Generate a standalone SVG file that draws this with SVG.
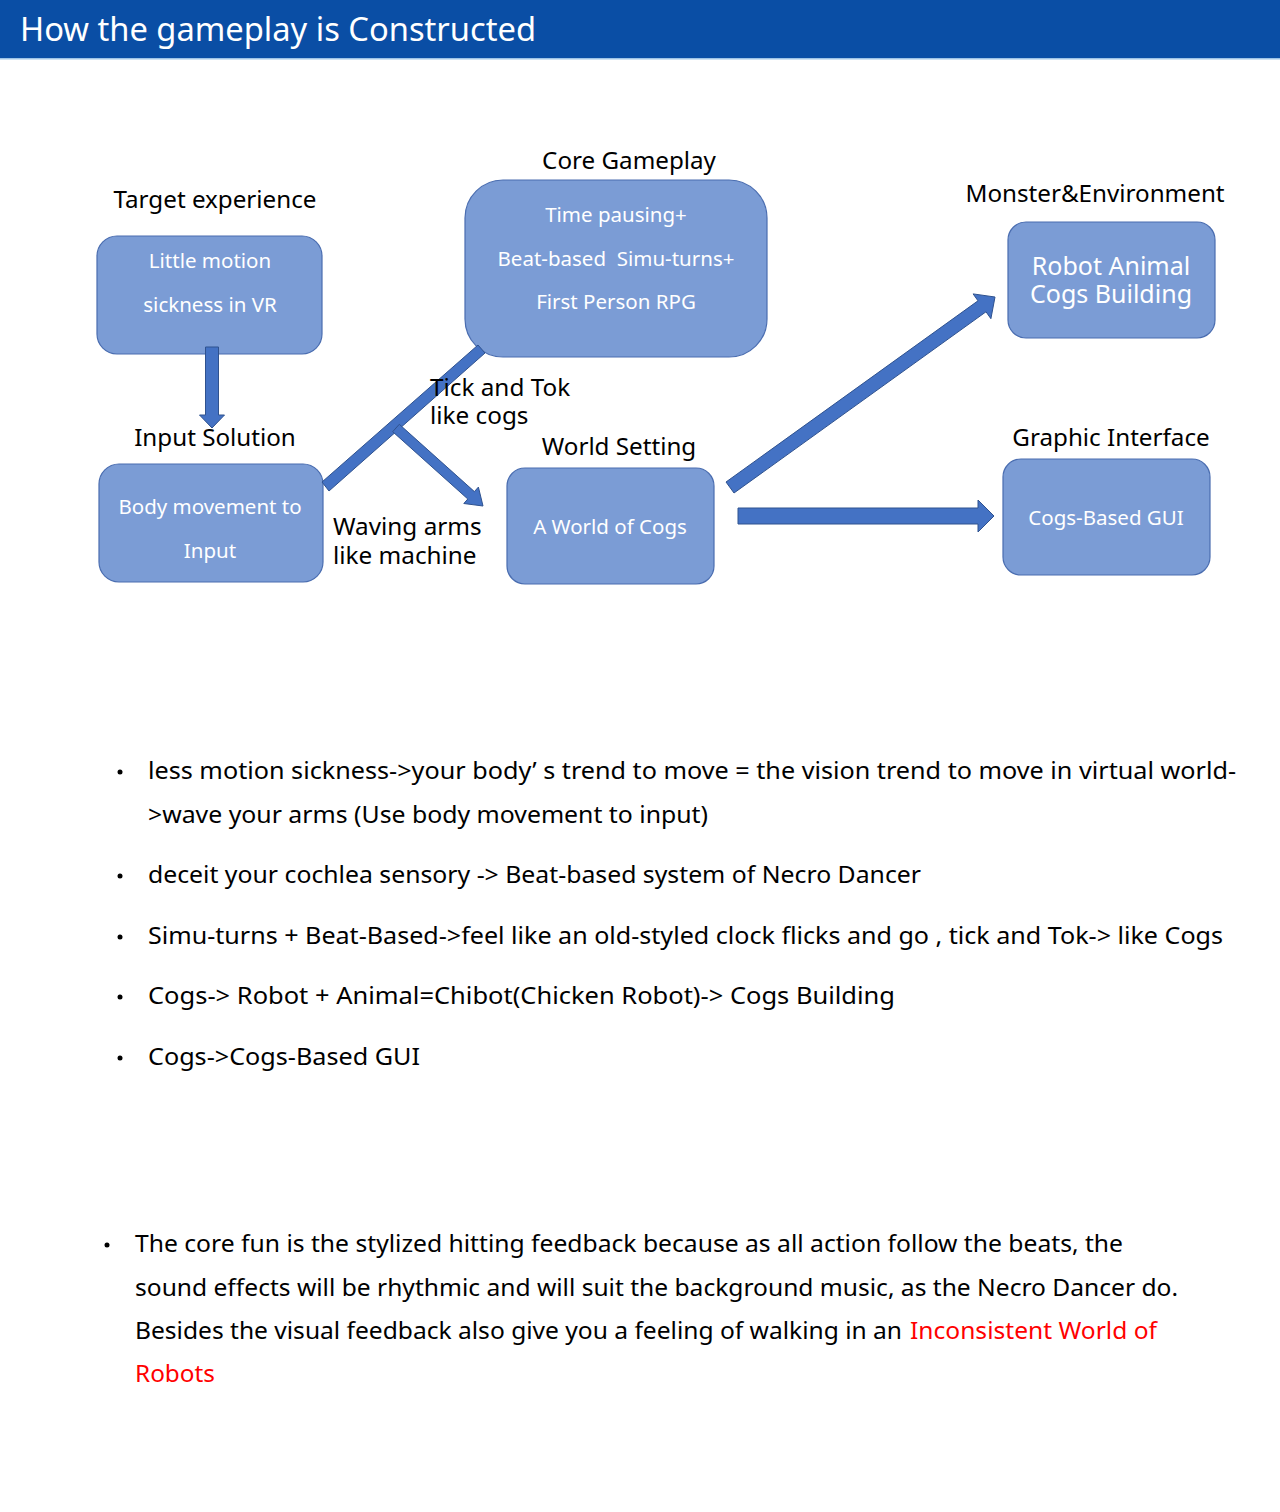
<svg xmlns="http://www.w3.org/2000/svg" width="1280" height="1512" viewBox="0 0 1280 1512">
<style>
.box{fill:#7B9CD5;stroke:#4A6DB0;stroke-width:1.2}
.bt{font-family:"Noto Sans","Open Sans",sans-serif;font-size:20.5px;fill:#FFFFFF;text-anchor:middle}
.hd{font-family:"Noto Sans","Open Sans",sans-serif;font-size:24.2px;fill:#000000;text-anchor:middle}
.lb{font-family:"Noto Sans","Open Sans",sans-serif;font-size:24.3px;fill:#000000}
.tx{font-family:"Noto Sans","Open Sans",sans-serif;font-size:23px;fill:#000000}
.red{fill:#FF0000}
.arr{fill:#4472C4;stroke:#2F528F;stroke-width:1}
</style>
<rect x="0" y="0" width="1280" height="1512" fill="#FFFFFF"/>
<rect x="0" y="0" width="1280" height="58" fill="#0A4EA5"/>
<rect x="0" y="58" width="1280" height="1.5" fill="#9DC3E6"/>
<text x="20" y="41" font-family="Noto Sans, Open Sans, sans-serif" font-size="33" fill="#FFFFFF" textLength="516" lengthAdjust="spacingAndGlyphs">How the gameplay is Constructed</text>

<g id="node-target">
<text class="hd" x="215" y="208">Target experience</text>
<rect class="box" x="97" y="236" width="225" height="118" rx="20"/>
<text class="bt" x="210" y="268">Little motion</text>
<text class="bt" x="210" y="312">sickness in VR</text>
</g>
<g id="node-input">
<text class="hd" x="215" y="446">Input Solution</text>
<rect class="box" x="99" y="464" width="224" height="118" rx="20"/>
<text class="bt" x="210" y="514">Body movement to</text>
<text class="bt" x="210" y="558">Input</text>
</g>
<g id="node-core">
<text class="hd" x="629" y="169">Core Gameplay</text>
<rect class="box" x="465" y="180" width="302" height="177" rx="38"/>
<text class="bt" x="616" y="222">Time pausing+</text>
<text class="bt" x="616" y="266" xml:space="preserve">Beat-based  Simu-turns+</text>
<text class="bt" x="616" y="309">First Person RPG</text>
</g>
<g id="node-world">
<text class="hd" x="619" y="455">World Setting</text>
<rect class="box" x="507" y="468" width="207" height="116" rx="18"/>
<text class="bt" x="610" y="534">A World of Cogs</text>
</g>
<g id="node-monster">
<text class="hd" x="1095" y="202">Monster&amp;Environment</text>
<rect class="box" x="1008" y="222" width="207" height="116" rx="18"/>
<text class="bt" x="1111" y="275" style="font-size:25px">Robot Animal</text>
<text class="bt" x="1111" y="303" style="font-size:25px">Cogs Building</text>
</g>
<g id="node-gui">
<text class="hd" x="1111" y="446">Graphic Interface</text>
<rect class="box" x="1003" y="459" width="207" height="116" rx="18"/>
<text class="bt" x="1106" y="525">Cogs-Based GUI</text>
</g>

<g id="connectors">
<polygon class="arr" points="205.5,347 218.5,347 218.5,415 224.5,415 212,428 199.5,415 205.5,415"/>
<polygon class="arr" points="322,482 478,345 485,353 329,491"/>
<polygon class="arr" points="399.3,424.3 474.4,491.6 478.4,487.1 483,506 463.8,503.5 467.8,499 392.7,431.7"/>
<polygon class="arr" points="726,482 978,300.8 973.1,293.9 995,297 990.9,318.7 986,311.8 734,493"/>
<polygon class="arr" points="738,508 978,508 978,500 994,516 978,532 978,524 738,524"/>
<text class="lb" x="430" y="396">Tick and Tok</text>
<text class="lb" x="430" y="424">like cogs</text>
<text class="lb" x="333" y="535">Waving arms</text>
<text class="lb" x="333" y="564">like machine</text>
</g>

<g id="bullets">
<circle cx="120" cy="772" r="2.5" fill="#000"/>
<text class="tx" x="148" y="779" textLength="1088" lengthAdjust="spacingAndGlyphs">less motion sickness-&gt;your body’ s trend to move = the vision trend to move in virtual world-</text>
<text class="tx" x="148" y="823" textLength="560" lengthAdjust="spacingAndGlyphs">&gt;wave your arms (Use body movement to input)</text>
<circle cx="120" cy="876" r="2.5" fill="#000"/>
<text class="tx" x="148" y="883" textLength="773" lengthAdjust="spacingAndGlyphs">deceit your cochlea sensory -&gt; Beat-based system of Necro Dancer</text>
<circle cx="120" cy="937" r="2.5" fill="#000"/>
<text class="tx" x="148" y="944" textLength="1075" lengthAdjust="spacingAndGlyphs">Simu-turns + Beat-Based-&gt;feel like an old-styled clock flicks and go , tick and Tok-&gt; like Cogs</text>
<circle cx="120" cy="997" r="2.5" fill="#000"/>
<text class="tx" x="148" y="1004" textLength="747" lengthAdjust="spacingAndGlyphs">Cogs-&gt; Robot + Animal=Chibot(Chicken Robot)-&gt; Cogs Building</text>
<circle cx="120" cy="1058" r="2.5" fill="#000"/>
<text class="tx" x="148" y="1065" textLength="272" lengthAdjust="spacingAndGlyphs">Cogs-&gt;Cogs-Based GUI</text>
</g>

<g id="summary">
<circle cx="107" cy="1245" r="2.5" fill="#000"/>
<text class="tx" x="135" y="1252" textLength="988" lengthAdjust="spacingAndGlyphs">The core fun is the stylized hitting feedback because as all action follow the beats, the</text>
<text class="tx" x="135" y="1296" textLength="1043" lengthAdjust="spacingAndGlyphs">sound effects will be rhythmic and will suit the background music, as the Necro Dancer do.</text>
<text class="tx" x="135" y="1339" textLength="767" lengthAdjust="spacingAndGlyphs">Besides the visual feedback also give you a feeling of walking in an</text>
<text class="tx red" x="910" y="1339" textLength="247" lengthAdjust="spacingAndGlyphs">Inconsistent World of</text>
<text class="tx red" x="135" y="1382" textLength="80" lengthAdjust="spacingAndGlyphs">Robots</text>
</g>
</svg>
